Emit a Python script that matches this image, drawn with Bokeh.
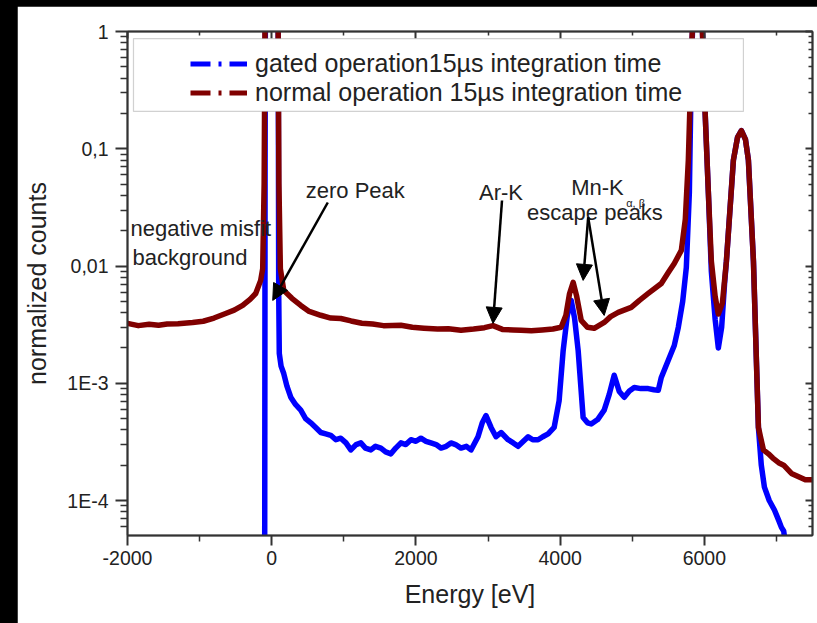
from bokeh.plotting import figure
from bokeh.models import (LinearAxis, LogAxis, FixedTicker, CustomJSTickFormatter, Legend,
                          LegendItem, Arrow, NormalHead, BoxAnnotation, Range1d, ColumnDataSource)
from bokeh.layouts import column
from bokeh.embed import file_html
from bokeh.resources import INLINE
from bokeh.core.properties import value

# ---------------- data ----------------
gated_energy = [-100, -92, -88, -60, 0, 60, 90, 97, 105, 130, 167, 210, 264, 330, 403, 470, 542,
                610, 681, 750, 819, 890, 958, 1030,
                1097, 1170, 1236, 1300, 1375, 1440, 1514, 1580, 1653, 1720, 1792, 1860, 1931,
                2000, 2069, 2140, 2208, 2280, 2347, 2420, 2486, 2550, 2625, 2700, 2764,
                2861, 2920, 2972, 3042, 3111, 3181, 3278, 3350, 3417, 3490, 3556, 3620, 3694,
                3760, 3833, 3917, 3986, 4042,
                4100, 4153, 4200, 4250, 4319, 4380, 4431, 4520, 4611, 4680, 4750, 4820, 4889,
                4960, 5028, 5120, 5222, 5300, 5361, 5403,
                5500, 5583, 5639, 5700, 5750, 5792, 5820, 5860, 5900, 5950, 6000, 6056, 6097,
                6150, 6194, 6240, 6280, 6306, 6403, 6460, 6514, 6570, 6611, 6681, 6722, 6750,
                6790, 6833, 6900, 6972, 7030, 7069, 7100, 7120]
gated_counts = [1e-6, 0.05, 1.5, 6, 10, 6, 1.5, 0.006, 1.8e-3, 1.4e-3, 1.21e-3, 9.5e-4, 7.6e-4,
                6.6e-4, 5.9e-4, 5.0e-4, 4.6e-4, 4.2e-4, 3.8e-4, 3.7e-4, 3.6e-4, 3.3e-4, 3.4e-4,
                3.1e-4,
                2.7e-4, 3.0e-4, 3.1e-4, 2.8e-4, 2.7e-4, 2.9e-4, 2.8e-4, 2.6e-4, 2.5e-4, 2.8e-4,
                3.1e-4, 3.0e-4, 3.3e-4, 3.2e-4, 3.4e-4, 3.2e-4, 3.1e-4, 3.0e-4, 2.8e-4, 2.9e-4,
                3.1e-4, 3.0e-4, 2.8e-4, 2.9e-4, 2.7e-4,
                3.5e-4, 4.6e-4, 5.3e-4, 4.2e-4, 3.5e-4, 3.8e-4, 3.3e-4, 3.1e-4, 2.9e-4, 3.2e-4,
                3.5e-4, 3.3e-4, 3.3e-4, 3.5e-4, 3.7e-4, 4.2e-4, 7.1e-4, 1.9e-3,
                3.8e-3, 5.1e-3, 3.6e-3, 1.9e-3, 5.1e-4, 4.6e-4, 4.5e-4, 4.9e-4, 5.9e-4, 8e-4,
                1.17e-3, 8.5e-4, 7.6e-4, 8.6e-4, 9.2e-4, 9.0e-4, 9.0e-4, 8.8e-4, 8.7e-4, 1.12e-3,
                1.57e-3, 2.1e-3, 3.0e-3, 5.0e-3, 9.7e-3, 0.042, 0.5, 3,
                5, 3, 0.3, 0.042, 0.009, 0.0035, 0.0020, 0.0030, 0.007, 0.011, 0.08, 0.125, 0.143,
                0.12, 0.08, 0.011, 0.00156, 4.2e-4, 2.0e-4, 1.3e-4, 1.0e-4, 8.3e-5, 6.8e-5,
                5.9e-5, 5.5e-5, 4.5e-5]

normal_energy = [-2000, -1850, -1700, -1569, -1450, -1300, -1097, -950, -800, -639, -520, -403,
                 -300, -222, -153, -125, -105, -92, -60, 0, 60, 88, 100, 120, 167, 280, 403, 520,
                 680, 819, 958, 1100, 1250, 1400, 1550, 1792, 1950, 2111, 2300, 2450, 2625, 2800,
                 2950, 3069, 3200, 3350, 3458, 3600, 3750, 3900, 4014, 4080, 4130, 4181, 4230,
                 4292, 4380, 4472, 4611, 4700, 4806, 4986, 5100, 5222, 5403, 5500, 5583, 5681,
                 5736, 5778, 5820, 5860, 5900, 5950, 6000, 6056, 6097, 6150, 6194, 6250, 6306,
                 6403, 6460, 6514, 6570, 6611, 6681, 6722, 6750, 6819, 6889, 6950, 7030, 7100,
                 7208, 7300, 7400, 7500]
normal_counts = [0.00324, 0.0031, 0.00318, 0.00312, 0.0032, 0.00322, 0.0033, 0.00338, 0.0036,
                 0.00394, 0.0042, 0.00461, 0.0052, 0.00583, 0.00754, 0.0095, 0.05, 1.5, 6, 10, 6,
                 1.5, 0.05, 0.0095, 0.0062, 0.0053, 0.00461, 0.0041, 0.0038, 0.0036, 0.00357,
                 0.0034, 0.00325, 0.0032, 0.0031, 0.00312, 0.003, 0.00295, 0.0029, 0.00292,
                 0.00283, 0.0029, 0.00298, 0.0031, 0.00288, 0.00285, 0.00283, 0.0028, 0.00285,
                 0.0029, 0.0030, 0.0038, 0.0058, 0.00725, 0.0055, 0.00344, 0.003, 0.00294, 0.0033,
                 0.0037, 0.00402, 0.00444, 0.0051, 0.00584, 0.0071, 0.0088, 0.0105, 0.0136, 0.025,
                 0.08, 0.6, 3, 5, 3, 0.3, 0.042, 0.011, 0.0055, 0.0039, 0.0048, 0.011, 0.08,
                 0.125, 0.143, 0.12, 0.08, 0.011, 0.00156, 4.2e-4, 2.7e-4, 2.5e-4, 2.3e-4, 2.1e-4,
                 2.0e-4, 1.7e-4, 1.6e-4, 1.5e-4, 1.5e-4]

series_labels = ["gated operation15µs integration time", "normal operation 15µs integration time"]
series_colors = ["#0000ff", "#800000"]

x_major_ticks = [-2000, 0, 2000, 4000, 6000]
x_minor_ticks = [-1000, 1000, 3000, 5000, 7000]
y_tick_values = [1e-4, 1e-3, 1e-2, 1e-1, 1.0]
y_tick_labels = ["1E-4", "1E-3", "0,01", "0,1", "1"]

note_text = ["negative misfit", "background", "zero Peak", "Ar-K", "Mn-K", "escape peaks"]
note_x = [-1958, -1930, 472, 2875, 4153, 3542]
note_y = [0.0209, 0.0118, 0.0441, 0.0424, 0.0468, 0.0286]
sub_text = ["α, β"]
sub_x = [4917]
sub_y = [0.0342]

arrow_x_start = [778, 3194, 4389, 4389]
arrow_y_start = [0.0348, 0.0362, 0.0260, 0.0260]
arrow_x_end = [14, 3069, 4319, 4611]
arrow_y_end = [0.00509, 0.00324, 0.00754, 0.00379]

legend_box = dict(left=-1917, right=6542, bottom=0.208, top=0.871)

# ---------------- figure ----------------
FONT = "Liberation Sans"
TXT = "#222222"
NAN = float("nan")

p = figure(width=800, height=617, x_range=Range1d(-2000, 7500), y_range=Range1d(5.03e-5, 1),
           y_axis_type="log", output_backend="svg", toolbar_location=None,
           min_border_left=110, min_border_right=5, min_border_top=25, min_border_bottom=88,
           x_axis_label="Energy [eV]", y_axis_label="normalized counts")
p.grid.visible = False
p.outline_line_color = "#333333"
p.outline_line_width = 1.5
p.background_fill_color = "white"
p.border_fill_color = "white"
p.margin = (6, 0, 0, 17)

xfmt = CustomJSTickFormatter(code="return tick.toFixed(0);")
yfmt = CustomJSTickFormatter(args=dict(vals=y_tick_values, labels=y_tick_labels), code="""
for (let i = 0; i < vals.length; i++) {
  if (Math.abs(Math.log10(tick) - Math.log10(vals[i])) < 1e-6) return labels[i];
}
return '';
""")
y_minor = [m * 10.0 ** d for d in range(-5, 1) for m in range(2, 10)]

xa = p.xaxis[0]
xa.ticker = FixedTicker(ticks=x_major_ticks, minor_ticks=x_minor_ticks)
xa.formatter = xfmt
ya = p.yaxis[0]
ya.ticker = FixedTicker(ticks=y_tick_values, minor_ticks=y_minor)
ya.formatter = yfmt

for ax in (xa, ya):
    ax.axis_line_color = "#333333"
    ax.axis_line_width = 2
    ax.major_tick_line_color = "#333333"
    ax.major_tick_line_width = 2
    ax.minor_tick_line_color = "#333333"
    ax.minor_tick_line_width = 1.5
    ax.major_tick_in = 0
    ax.minor_tick_in = 0
    ax.major_label_text_font = FONT
    ax.major_label_text_font_size = "19.5px"
    ax.major_label_text_color = TXT
    ax.axis_label_text_font = FONT
    ax.axis_label_text_font_size = "25px"
    ax.axis_label_text_font_style = "normal"
    ax.axis_label_text_color = TXT
xa.major_tick_out = 10
xa.minor_tick_out = 6
xa.major_label_standoff = 5
xa.axis_label_standoff = 12
ya.major_tick_out = 12
ya.minor_tick_out = 7
ya.major_label_standoff = 7
ya.axis_label_standoff = 13

blank = CustomJSTickFormatter(code="return '';")
top_ax = LinearAxis(ticker=FixedTicker(ticks=x_major_ticks, minor_ticks=x_minor_ticks), formatter=blank)
right_ax = LogAxis(ticker=FixedTicker(ticks=y_tick_values, minor_ticks=y_minor), formatter=blank)
for ax in (top_ax, right_ax):
    ax.axis_line_color = "#333333"
    ax.axis_line_width = 2
    ax.major_tick_line_color = "#333333"
    ax.major_tick_line_width = 2
    ax.minor_tick_line_color = "#333333"
    ax.minor_tick_line_width = 1.5
    ax.major_tick_in = 7
    ax.major_tick_out = 0
    ax.minor_tick_in = 4
    ax.minor_tick_out = 0
    ax.major_label_text_font_size = "0px"
    ax.major_label_standoff = 0
p.add_layout(top_ax, "above")
p.add_layout(right_ax, "right")

# curves
gsrc = ColumnDataSource(dict(x=gated_energy, y=gated_counts))
nsrc = ColumnDataSource(dict(x=normal_energy, y=normal_counts))
p.line("x", "y", source=gsrc, line_color=series_colors[0], line_width=5.5, line_join="round")
p.line("x", "y", source=nsrc, line_color=series_colors[1], line_width=5.5, line_join="round")

# annotations: arrows and texts
asrc = ColumnDataSource(dict(x0=arrow_x_start, y0=arrow_y_start, x1=arrow_x_end, y1=arrow_y_end))
p.add_layout(Arrow(source=asrc, x_start="x0", y_start="y0", x_end="x1", y_end="y1",
                   line_color="black", line_width=2.5,
                   end=NormalHead(size=16, fill_color="black", line_color="black")))

tsrc = ColumnDataSource(dict(x=note_x, y=note_y, t=note_text))
p.text("x", "y", text="t", source=tsrc, text_font=value(FONT), text_font_size="22px",
       text_color=TXT, text_baseline="middle", text_align="left")
ssrc = ColumnDataSource(dict(x=sub_x, y=sub_y, t=sub_text))
p.text("x", "y", text="t", source=ssrc, text_font=value(FONT), text_font_size="11px",
       text_color=TXT, text_baseline="middle", text_align="left")

# legend box + legend
p.add_layout(BoxAnnotation(fill_color="white", fill_alpha=1.0, line_color="#666666", line_width=1.2,
                           **legend_box))
leg_r = [p.line(x=[NAN], y=[NAN], line_color=c, line_width=5, line_dash="20 8 3 8")
         for c in series_colors]
legend = Legend(items=[LegendItem(label=l, renderers=[r]) for l, r in zip(series_labels, leg_r)],
                location=(63, 428), padding=0, margin=0, spacing=0,
                glyph_width=57, glyph_height=29, label_height=29, label_standoff=8,
                label_text_font=FONT, label_text_font_size="25px", label_text_color=TXT,
                background_fill_alpha=0, border_line_alpha=0)
p.add_layout(legend)

page = column(p, width=817, height=623, styles={"background-color": "black"})
open("out.html", "w").write(file_html(page, INLINE))
